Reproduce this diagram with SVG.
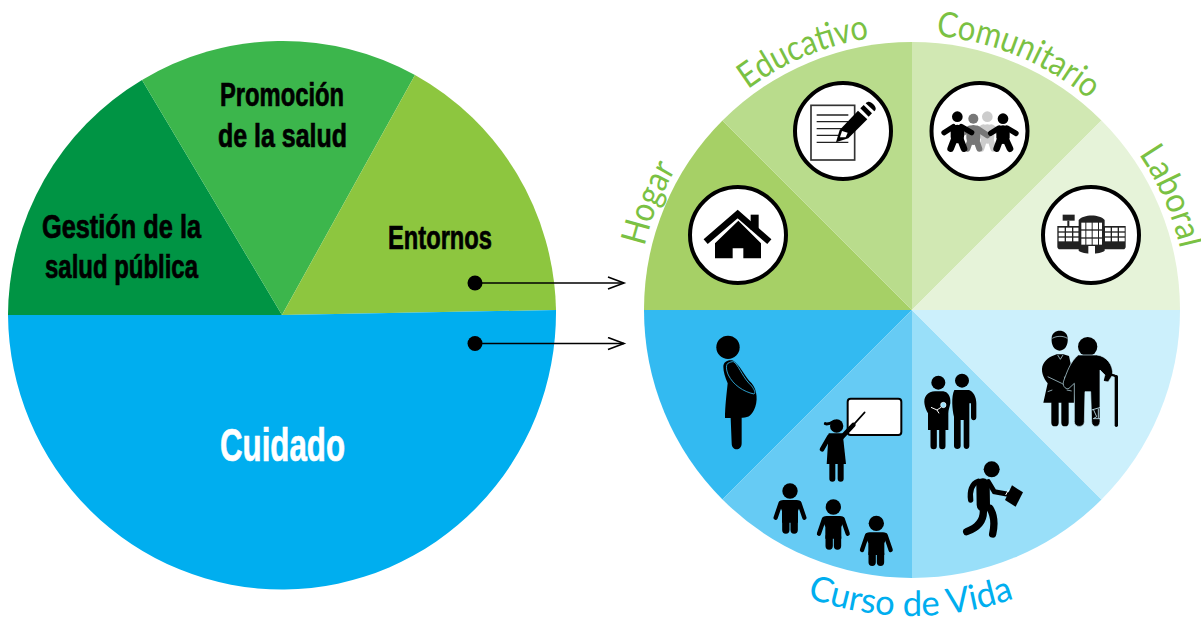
<svg xmlns="http://www.w3.org/2000/svg" width="1201" height="617" viewBox="0 0 1201 617">
<style>
.lt{font-family:"Liberation Sans Narrow","Liberation Sans",Arial,sans-serif;font-weight:700;fill:#000;stroke:#000;stroke-width:.7}
.rt{font-family:Lato,"Open Sans",sans-serif;font-weight:400;font-size:35px}
.g{fill:#7ac143}.b{fill:#00aeef}
.ring{fill:#fff;stroke:#000;stroke-width:4}
.ln{fill:none;stroke:#000;stroke-linecap:round}
.conn{fill:none;stroke:#000;stroke-width:1.6}
</style>
<defs>
<path id="topArc" d="M637 310A275 275 0 0 1 1187 310"/>
<path id="botArc" d="M606 310A306 306 0 0 0 1218 310"/>
<marker id="open" markerUnits="userSpaceOnUse" markerWidth="20" markerHeight="16" refX="17" refY="7" orient="auto"><path d="M1 1L17 7L1 13" fill="none" stroke="#000" stroke-width="1.6"/></marker>
<g id="child">
<circle cx="0" cy="0" r="23"/>
<path d="M-20 27H20C28 27 32 30 33 38L24 60V95H-24V60L-33 38C-32 30 -28 27 -20 27Z"/>
<path class="ln" stroke-width="13" d="M-28 36L-43 80M28 36L43 80"/>
<path class="ln" stroke-width="22" d="M-12.500 90V117M12.500 90V117"/>
</g>
</defs>

<g id="pie-left">
<g id="gestion"><path d="M282 315L142 80A274 275 0 0 0 8 315Z" fill="#009444"/>
<text class="lt" x="42" y="238" font-size="33" textLength="159" lengthAdjust="spacingAndGlyphs">Gestión de la</text>
<text class="lt" x="45" y="278" font-size="33" textLength="153" lengthAdjust="spacingAndGlyphs">salud pública</text></g>
<g id="promocion"><path d="M282 315L415 75A274 275 0 0 0 142 80Z" fill="#3cb64c"/>
<text class="lt" x="220" y="106" font-size="33" textLength="124" lengthAdjust="spacingAndGlyphs">Promoción</text>
<text class="lt" x="218" y="147" font-size="33" textLength="129" lengthAdjust="spacingAndGlyphs">de la salud</text></g>
<g id="entornos"><path d="M282 315L556 310A274 275 0 0 0 415 75Z" fill="#8dc63f"/>
<text class="lt" x="388" y="249" font-size="33" textLength="104" lengthAdjust="spacingAndGlyphs">Entornos</text></g>
<g id="cuidado"><path d="M8 315H282L556 310A274 277 0 0 1 8 315Z" fill="#00aeef"/>
<text class="lt" x="220" y="461" font-size="47" textLength="125" lengthAdjust="spacingAndGlyphs" style="fill:#fff;stroke:#fff">Cuidado</text></g>
</g>

<g id="pie-right">
<g id="hogar"><path d="M912 310L722.500 120.500A268 268 0 0 0 644 310Z" fill="#a6d066"/>
<text class="rt g"><textPath href="#topArc" startOffset="64" textLength="84" lengthAdjust="spacingAndGlyphs">Hogar</textPath></text>
<circle class="ring" cx="738" cy="235" r="48"/>
<g transform="translate(680 80) scale(.33333)">
<rect x="212" y="404" width="24" height="45"/>
<path d="M77 485L173 402L268 485" fill="none" stroke="#000" stroke-width="19"/>
<path d="M105 490L175 422L243 490V535H190V505H158V535H105Z"/>
</g></g>
<g id="educativo"><path d="M912 310V42A268 268 0 0 0 722.500 120.500Z" fill="#b9dc8c"/>
<text class="rt g"><textPath href="#topArc" startOffset="256" textLength="133" lengthAdjust="spacingAndGlyphs">Educativo</textPath></text>
<circle class="ring" cx="843" cy="131" r="48"/>
<g transform="translate(680 80) scale(.33333)">
<rect x="393" y="76" width="131" height="164" fill="#fff" stroke="#333" stroke-width="5"/>
<path d="M410 105H505M410 125H505M410 146H505M410 166H505M410 187H505" stroke="#222" stroke-width="4" fill="none"/>
<path d="M468 187L479 150L534 92L562 118L505 175Z"/>
<path d="M480 172L486 153L503 158L497 172Z" fill="#fff"/>
<path d="M541 85L551 75L576 100L566 110ZM557 70C565 62 572 65 580 73C588 82 590 88 583 94Z"/>
</g></g>
<g id="comunitario"><path d="M912 310L1101.500 120.500A268 268 0 0 0 912 42Z" fill="#d1e8b3"/>
<text class="rt g"><textPath href="#topArc" startOffset="456" textLength="168" lengthAdjust="spacingAndGlyphs">Comunitario</textPath></text>
<circle class="ring" cx="979.500" cy="131" r="48"/>
<g transform="translate(920 90) scale(.33333)" fill="none" stroke-linecap="round">
<g stroke="#ccc"><circle cx="202" cy="80" r="16" fill="#ccc" stroke="none"/><path stroke-width="42" d="M202 124V140"/><path stroke-width="18" d="M190 112L160 132M214 112L244 132M192 150L184 176M212 150L220 176"/></g>
<g stroke="#777"><circle cx="160" cy="86" r="15" fill="#777" stroke="none"/><path stroke-width="42" d="M160 126V144"/><path stroke-width="18" d="M148 116L118 136M172 116L202 136M150 154L142 176M170 154L178 176"/></g>
<g stroke="#000"><circle cx="112" cy="80" r="16" fill="#000" stroke="none"/><path stroke-width="40" d="M112 124V140"/><path stroke-width="16" d="M100 110L72 128M124 110L155 128"/><path stroke-width="20" d="M102 150L92 176M122 150L132 176"/></g>
<g stroke="#000"><circle cx="249" cy="86" r="16" fill="#000" stroke="none"/><path stroke-width="40" d="M249 126V142"/><path stroke-width="16" d="M237 114L212 130M261 114L288 130"/><path stroke-width="20" d="M239 152L230 176M259 152L270 176"/></g>
</g></g>
<g id="laboral"><path d="M912 310H1180A268 268 0 0 0 1101.500 120.500Z" fill="#e6f3d9"/>
<text class="rt g"><textPath href="#topArc" startOffset="698" textLength="104" lengthAdjust="spacingAndGlyphs">Laboral</textPath></text>
<circle class="ring" cx="1091" cy="235" r="48"/>
<g transform="translate(920 90) scale(.33333)">
<rect x="428" y="374" width="36" height="18" fill="#222"/><rect x="442" y="392" width="6" height="18" fill="#222"/>
<path d="M412 408H478V478H420C415 478 412 474 412 470ZM552 408H617V470C617 474 614 478 610 478H552Z" fill="#222"/>
<g fill="#fff"><rect x="416" y="413" width="18" height="11"/><rect x="438" y="413" width="18" height="11"/><rect x="460" y="413" width="16" height="11"/><rect x="416" y="428" width="18" height="11"/><rect x="438" y="428" width="18" height="11"/><rect x="460" y="428" width="16" height="11"/><rect x="416" y="443" width="18" height="11"/><rect x="438" y="443" width="18" height="11"/><rect x="460" y="443" width="16" height="11"/>
<rect x="555" y="413" width="17" height="11"/><rect x="576" y="413" width="17" height="11"/><rect x="597" y="413" width="17" height="11"/><rect x="555" y="428" width="17" height="11"/><rect x="576" y="428" width="17" height="11"/><rect x="597" y="428" width="17" height="11"/><rect x="555" y="443" width="17" height="11"/><rect x="576" y="443" width="17" height="11"/><rect x="597" y="443" width="17" height="11"/></g>
<path d="M476 390C490 372 540 372 554 390V482C540 494 490 494 476 482Z" fill="#222"/>
<g fill="#fff"><rect x="484" y="398" width="12" height="20"/><rect x="499" y="398" width="16" height="20"/><rect x="518" y="398" width="16" height="20"/><rect x="537" y="398" width="9" height="20"/>
<rect x="484" y="422" width="12" height="20"/><rect x="499" y="422" width="16" height="20"/><rect x="518" y="422" width="16" height="20"/><rect x="537" y="422" width="9" height="20"/>
<rect x="484" y="446" width="12" height="18"/><rect x="499" y="446" width="16" height="18"/><rect x="518" y="446" width="16" height="18"/><rect x="537" y="446" width="9" height="18"/>
<rect x="505" y="468" width="20" height="24"/></g>
</g></g>

<g id="curso-gestante"><path d="M912 310H644A268 268 0 0 0 722.500 499.500Z" fill="#33baf1"/>
<g transform="translate(700 330) scale(.33333)">
<circle cx="84" cy="52" r="35"/>
<path d="M70 110C70 95 85 88 100 92C120 105 135 140 155 160C172 180 175 215 162 240C155 253 148 263 128 263H125V340C125 364 95 364 95 340L92 264H75C75 230 80 190 83 160C75 140 70 125 70 110Z"/>
<path d="M88 98C76 100 78 120 85 135C100 165 130 185 162 192C168 188 162 178 155 168C130 145 120 115 105 98C100 93 94 95 88 98Z" fill="none" stroke="#33baf1" stroke-width="2.500"/>
</g></g>
<g id="curso-infancia"><path d="M912 310L722.500 499.500A268 268 0 0 0 912 578Z" fill="#66cbf4"/>
<g transform="translate(700 330) scale(.33333)">
<rect x="443" y="206" width="161" height="109" rx="9" fill="#fff" stroke="#000" stroke-width="6"/>
<circle cx="410" cy="288" r="20"/>
<path class="ln" stroke-width="9" d="M376 281C385 284 395 278 402 274"/>
<path class="ln" stroke-width="5" d="M450 296L494 247"/>
<path class="ln" stroke-width="14" d="M425 322L460 285M388 320L366 358"/>
<path d="M386 310H428L438 402H380Z"/>
<path class="ln" stroke-width="18" d="M397 400V446M422 400V446"/>
<use href="#child" x="270" y="483"/><use href="#child" x="400" y="531"/><use href="#child" x="529" y="580"/>
</g></g>
<g id="curso-adultez"><path d="M912 310V578A268 268 0 0 0 1101.500 499.500Z" fill="#99dff9"/>
<g transform="translate(915 320) scale(.33333)">
<circle cx="70" cy="188" r="21"/><circle cx="141" cy="182" r="21"/>
<path d="M60 214H85C98 216 108 228 106 250C104 262 100 270 100 280V330H39V280C30 265 22 240 34 226C40 218 50 214 60 214Z"/>
<path class="ln" stroke-width="19" d="M56 330V378M82 330V378"/>
<path d="M118 210H162C175 215 184 230 184 250V292C184 304 168 304 168 292V250L163 250V378C163 390 146 390 146 378V300H137V378C137 390 117 390 117 378V290C112 270 108 230 118 210Z"/>
<path d="M48 262L66 270L78 262M66 270L72 280" fill="none" stroke="#fff" stroke-width="3"/>
<circle cx="85" cy="255" r="8" fill="#99dff9" stroke="#fff" stroke-width="2"/>
<circle cx="230" cy="448" r="24"/>
<path class="ln" stroke-width="16" d="M190 484C170 490 163 515 167 540"/>
<path class="ln" stroke-width="40" d="M204 495L205 555"/>
<path class="ln" stroke-width="15" d="M220 485L238 515L275 522"/>
<path class="ln" stroke-width="22" d="M205 570C207 600 190 622 155 635M225 565C240 590 238 620 233 642"/>
<path d="M291 496L324 517L302 560L270 540Z"/>
<path d="M272 525L281 509" stroke="#fff" stroke-width="3"/>
</g></g>
<g id="curso-vejez"><path d="M912 310L1101.500 499.500A268 268 0 0 0 1180 310Z" fill="#ccf0fc"/>
<g transform="translate(915 320) scale(.33333)">
<path d="M410 55C410 25 458 25 458 55C460 75 450 92 434 92C418 92 408 75 410 55Z"/>
<path d="M412 55C425 47 445 47 457 55" fill="none" stroke="#ccf0fc" stroke-width="2"/>
<path d="M425 103H445L462 108L482 200L477 248H385L398 190C385 175 375 150 385 132C395 115 410 108 425 103Z"/>
<path class="ln" stroke-width="22" d="M420 250V308M450 250V308"/>
<path d="M398 170L440 190C452 198 455 185 448 170M428 105L436 118L444 105M398 215L412 210M455 210L470 213" fill="none" stroke="#ccf0fc" stroke-width="2"/>
<circle cx="518" cy="80" r="29"/>
<path d="M490 105H545C575 108 595 135 593 165L580 185C570 188 565 175 570 165L555 150V305C555 324 530 324 530 305L527 215H510L508 305C508 324 478 324 478 305V190L462 205C450 210 440 195 447 180C455 160 465 125 490 105Z" stroke="#ccf0fc" stroke-width="2"/>
<path class="ln" stroke-width="10" d="M604 170V316"/>
<path class="ln" stroke-width="7" d="M570 180C575 165 590 160 604 170"/>
<path d="M530 270L557 262M535 268L545 290L535 296L556 296M550 266V295" fill="none" stroke="#ccf0fc" stroke-width="2.500"/>
</g></g>
<text class="rt b"><textPath href="#botArc" startOffset="373" textLength="212" lengthAdjust="spacingAndGlyphs">Curso de Vida</textPath></text>
</g>

<g id="connectors">
<circle cx="475" cy="283" r="7.500"/>
<circle cx="475" cy="343.500" r="7.500"/>
<path class="conn" marker-end="url(#open)" d="M475 283H624"/>
<path class="conn" marker-end="url(#open)" d="M475 343.500H624"/>
</g>
</svg>
